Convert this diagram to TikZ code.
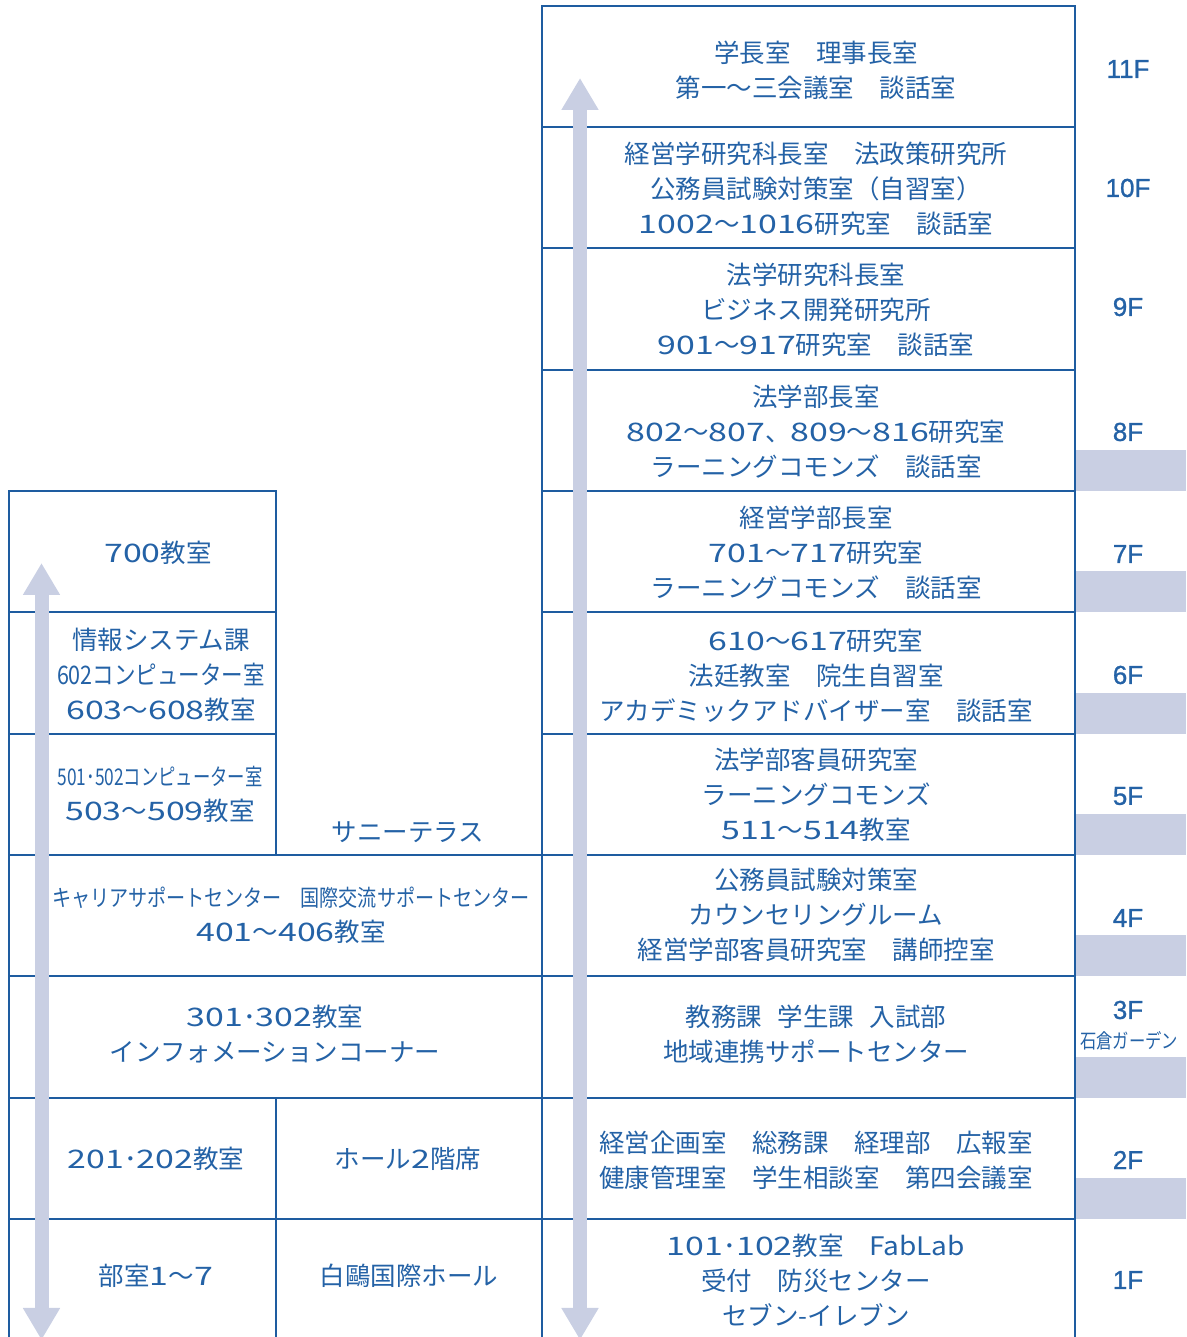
\documentclass[tikz,border=0pt]{standalone}
\usepackage{fontspec}
\usepackage{graphicx}
\setmainfont{Noto Sans CJK JP}
\newfontfamily\floorfont[FakeBold=1]{Liberation Sans}
\usetikzlibrary{arrows.meta}
\definecolor{wallblue}{HTML}{1E5CA0}
\definecolor{textblue}{HTML}{2462A6}
\definecolor{liftgray}{HTML}{C9CFE3}
\tikzset{%
    wall/.style={draw=wallblue,line width=2pt},
    room/.style={align=center,text=textblue,inner sep=0pt,font=\fontsize{25.5}{35}\selectfont},
    floorlabel/.style={text=textblue,inner sep=0pt,font=\floorfont\fontsize{26}{30}\selectfont},
    lift/.style={draw=liftgray,line width=14pt,{Triangle[width=35pt,length=32pt]}-{Triangle[width=35pt,length=32pt]}},
    band/.style={fill=liftgray,draw=none},
}
\newcommand{\squeeze}[3]{\resizebox{#1}{\height}{\fontsize{#2}{#2}\selectfont #3}}
\newcommand{\dg}[1]{\scalebox{1.33}[1]{#1}}

\begin{document}
\begin{tikzpicture}[x=1pt,y=1pt]
        \useasboundingbox (0,0) rectangle (1186,1337);
        % grey bands under the floor numbers
        \foreach \yb in {118,239,361,482,603,725,846} \fill[band] (1076,\yb) rectangle (1186,\yb+41);

        % main tower
        \draw[wall] (542,-5) -- (542,1331) -- (1075,1331) -- (1075,-5);
        \foreach \yb in {118,239,361,482,603,725,846,967,1089,1210} \draw[wall] (542,\yb) -- (1075,\yb);

        % low wing
        \draw[wall] (9,-5) -- (9,846) -- (276,846) -- (276,482);
        \foreach \yb in {603,725} \draw[wall] (9,\yb) -- (276,\yb);
        \foreach \yb in {118,239,361,482} \draw[wall] (9,\yb) -- (542,\yb);
        \draw[wall] (276,-5) -- (276,239);

        % lifts
        \draw[lift] (41.5,-3) -- (41.5,774);
        \draw[lift] (580,-3) -- (580,1259);

        % main tower rooms
        \node[room] (r11) at (816,1267) {学長室　理事長室\\第一〜三会議室　談話室};
        \node[room] (r10) at (816,1148) {経営学研究科長室　法政策研究所\\公務員試験対策室（自習室）\\\dg{1002}〜\dg{1016}研究室　談話室};
        \node[room] (r9) at (816,1027) {法学研究科長室\\ビジネス開発研究所\\\dg{901}〜\dg{917}研究室　談話室};
        \node[room] (r8) at (816,905) {法学部長室\\\dg{802}〜\dg{807}、\dg{809}〜\dg{816}研究室\\ラーニングコモンズ　談話室};
        \node[room] (r7) at (816,784) {経営学部長室\\\dg{701}〜\dg{717}研究室\\ラーニングコモンズ　談話室};
        \node[room] (r6) at (816,661) {\dg{610}〜\dg{617}研究室\\法廷教室　院生自習室\\アカデミックアドバイザー室　談話室};
        \node[room] (r5) at (816,542) {法学部客員研究室\\ラーニングコモンズ\\\dg{511}〜\dg{514}教室};
        \node[room] (r4) at (816,422) {公務員試験対策室\\カウンセリングルーム\\経営学部客員研究室　講師控室};
        \node[room] (r3) at (816,303) {教務課\hspace{0.6em}学生課\hspace{0.6em}入試部\\地域連携サポートセンター};
        \node[room,align=left] (r2) at (816,177) {経営企画室　総務課　経理部　広報室\\健康管理室　学生相談室　第四会議室};
        \node[room] (r1) at (816,57) {\dg{101}･\dg{102}教室　\scalebox{1.1}[1]{FabLab}\\受付　防災センター\\セブン-イレブン};

        % floor numbers
        \node[floorlabel] (l11) at (1128,1268) {11F};
        \node[floorlabel] (l10) at (1128,1149) {10F};
        \node[floorlabel] (l9) at (1128,1030) {9F};
        \node[floorlabel] (l8) at (1128,905) {8F};
        \node[floorlabel] (l7) at (1128,783) {7F};
        \node[floorlabel] (l6) at (1128,662) {6F};
        \node[floorlabel] (l5) at (1128,541) {5F};
        \node[floorlabel] (l4) at (1128,419) {4F};
        \node[floorlabel] (l3) at (1128,327) {3F};
        \node[room] (garden) at (1129,296) {\squeeze{98pt}{20}{石倉ガーデン}};
        \node[floorlabel] (l2) at (1128,177) {2F};
        \node[floorlabel] (l1) at (1128,57) {1F};

        % low wing rooms
        \node[room] (w7) at (158,784) {\dg{700}教室};
        \node[room] (w6) at (161,662) {情報システム課\\\squeeze{208pt}{25.5}{602コンピューター室}\\\dg{603}〜\dg{608}教室};
        \node[room] (w5) at (160,543) {\squeeze{205pt}{23}{501･502コンピューター室}\\\dg{503}〜\dg{509}教室};
        \node[room] (terrace) at (408,505) {サニーテラス};
        \node[room] (w4) at (291,422) {\squeeze{478pt}{23}{キャリアサポートセンター　国際交流サポートセンター}\\\dg{401}〜\dg{406}教室};
        \node[room] (w3) at (275,303) {\dg{301}･\dg{302}教室\\インフォメーションコーナー};
        \node[room] (w2a) at (156,178) {\dg{201}･\dg{202}教室};
        \node[room] (w2b) at (408,178) {ホール\dg{2}階席};
        \node[room] (w1a) at (156,61) {部室\dg{1}〜\dg{7}};
        \node[room] (w1b) at (409,61) {白鷗国際ホール};
\end{tikzpicture}
\end{document}
